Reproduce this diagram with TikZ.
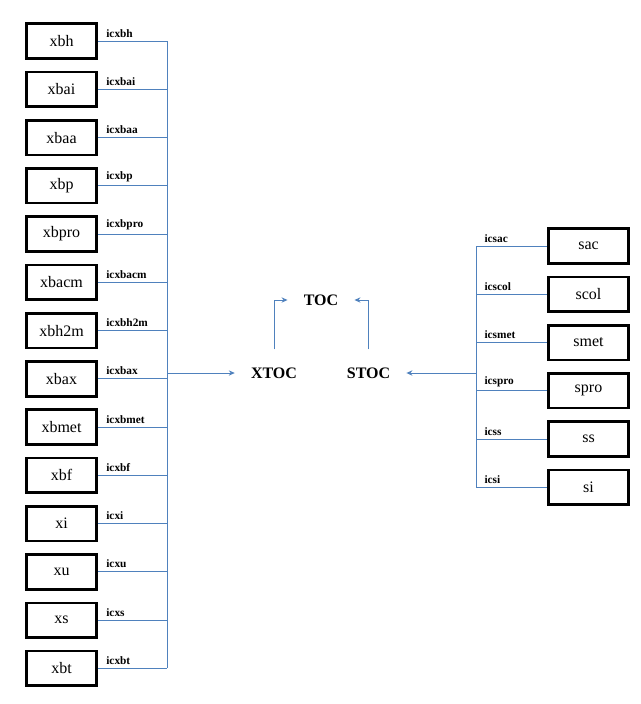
\documentclass[tikz,border=0pt]{standalone}
\usepackage{fontspec}
\setmainfont{Liberation Serif}
\usetikzlibrary{positioning, arrows.meta}

\definecolor{linkblue}{HTML}{4F81BD}

\begin{document}
\begin{tikzpicture}[
    x=0.75pt, y=-0.75pt,
    node distance=8.2pt,
    box/.style={
        draw,
        line width=2pt,
        minimum width=52.5pt,
        minimum height=26pt,
        font=\fontsize{12}{14}\selectfont
    },
    wbox/.style={box, minimum width=60pt},
    title/.style={
        font=\bfseries\fontsize{12}{14}\selectfont,
        inner xsep=12pt,
        inner ysep=13.5pt
    },
    lab/.style={
        pos=0,
        anchor=south west,
        inner sep=0pt,
        xshift=6pt,
        yshift=2.5pt,
        font=\bfseries\fontsize{8.5}{10}\selectfont
    },
    link/.style={draw=linkblue, line width=0.75pt},
    arrow/.style={link, -{Stealth[length=4.5pt, width=4pt]}}
]

\useasboundingbox (0,0) rectangle (640,704);

% left column
\node[box] (xbh) at (61.5,41) {xbh};
\node[box, below=of xbh] (xbai) {xbai};
\node[box, below=of xbai] (xbaa) {xbaa};
\node[box, below=of xbaa] (xbp) {xbp};
\node[box, below=of xbp] (xbpro) {xbpro};
\node[box, below=of xbpro] (xbacm) {xbacm};
\node[box, below=of xbacm] (xbh2m) {xbh2m};
\node[box, below=of xbh2m] (xbax) {xbax};
\node[box, below=of xbax] (xbmet) {xbmet};
\node[box, below=of xbmet] (xbf) {xbf};
\node[box, below=of xbf] (xi) {xi};
\node[box, below=of xi] (xu) {xu};
\node[box, below=of xu] (xs) {xs};
\node[box, below=of xs] (xbt) {xbt};

% right column
\node[wbox] (sac) at (588.5,246) {sac};
\node[wbox, below=of sac] (scol) {scol};
\node[wbox, below=of scol] (smet) {smet};
\node[wbox, below=of smet] (spro) {spro};
\node[wbox, below=of spro] (ss) {ss};
\node[wbox, below=of ss] (si) {si};

% middle
\node[title] (xtoc) at (274,373) {XTOC};
\node[title] (stoc) at (368.5,373) {STOC};
\node[title] (toc) at (321,300) {TOC};

\coordinate (lbus) at (167,0);
\coordinate (rbus) at (476,0);

% left links
\draw[link] (xbh.east) -- node[lab] {icxbh} (xbh.east -| lbus);
\draw[link] (xbai.east) -- node[lab] {icxbai} (xbai.east -| lbus);
\draw[link] (xbaa.east) -- node[lab] {icxbaa} (xbaa.east -| lbus);
\draw[link] (xbp.east) -- node[lab] {icxbp} (xbp.east -| lbus);
\draw[link] (xbpro.east) -- node[lab] {icxbpro} (xbpro.east -| lbus);
\draw[link] (xbacm.east) -- node[lab] {icxbacm} (xbacm.east -| lbus);
\draw[link] (xbh2m.east) -- node[lab] {icxbh2m} (xbh2m.east -| lbus);
\draw[link] (xbax.east) -- node[lab] {icxbax} (xbax.east -| lbus);
\draw[link] (xbmet.east) -- node[lab] {icxbmet} (xbmet.east -| lbus);
\draw[link] (xbf.east) -- node[lab] {icxbf} (xbf.east -| lbus);
\draw[link] (xi.east) -- node[lab] {icxi} (xi.east -| lbus);
\draw[link] (xu.east) -- node[lab] {icxu} (xu.east -| lbus);
\draw[link] (xs.east) -- node[lab] {icxs} (xs.east -| lbus);
\draw[link] (xbt.east) -- node[lab] {icxbt} (xbt.east -| lbus);
\draw[link] (xbh.east -| lbus) -- (xbt.east -| lbus);

% right links
\draw[link] (sac.west -| rbus) -- node[lab] {icsac} (sac.west);
\draw[link] (scol.west -| rbus) -- node[lab] {icscol} (scol.west);
\draw[link] (smet.west -| rbus) -- node[lab] {icsmet} (smet.west);
\draw[link] (spro.west -| rbus) -- node[lab] {icspro} (spro.west);
\draw[link] (ss.west -| rbus) -- node[lab] {icss} (ss.west);
\draw[link] (si.west -| rbus) -- node[lab] {icsi} (si.west);
\draw[link] (sac.west -| rbus) -- (si.west -| rbus);

% arrows
\draw[arrow] (xtoc -| lbus) -- (xtoc);
\draw[arrow] (stoc -| rbus) -- (stoc);
\draw[arrow] (xtoc.north) |- (toc.west);
\draw[arrow] (stoc.north) |- (toc.east);

\end{tikzpicture}
\end{document}
